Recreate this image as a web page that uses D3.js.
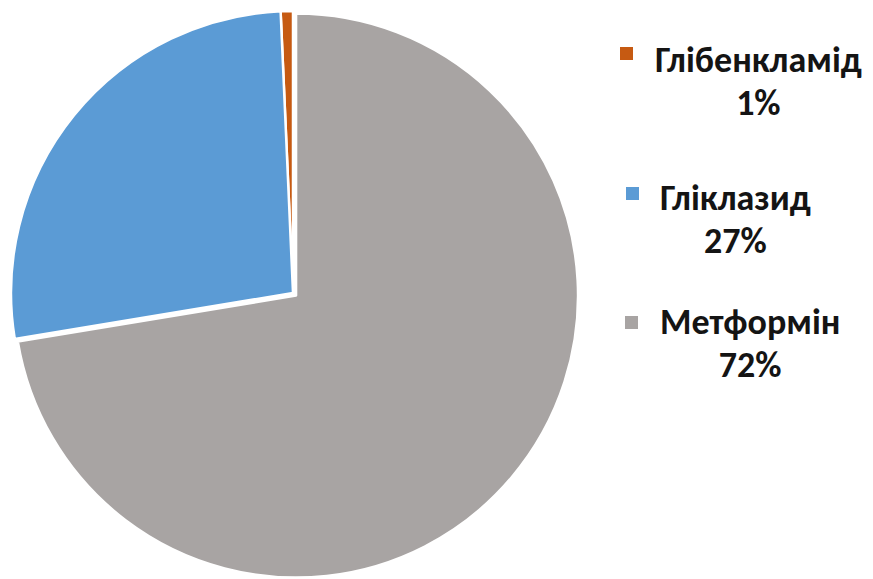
<!DOCTYPE html>
<html>
<head>
<meta charset="utf-8">
<script src="https://cdn.jsdelivr.net/npm/d3@7"></script>
<style>
  html, body { margin: 0; padding: 0; background: #fff; }
  svg { display: block; }
  text { font-family: Carlito, Calibri, "Open Sans", Lato, sans-serif; font-weight: 700; fill: #141414; }
</style>
</head>
<body>
<svg id="chart" width="873" height="579"></svg>
<script>
// Share of prescriptions by drug (percent)
const drugs  = ["Глібенкламід", "Гліклазид", "Метформін"];
const shares = [0.7, 26.9, 72.4];
const colors = ["#C65A12", "#5B9BD5", "#A8A4A3"];

const W = 873, H = 579;
const cx = 293, cy = 293, R = 282;
const explode = 4; // the largest slice is pulled out slightly

const svg = d3.select("#chart");
const total = d3.sum(shares);

// Slices run counter-clockwise from 12 o'clock in data order
const pie = d3.pie().sort(null).value(d => d)
  .startAngle(0).endAngle(-2 * Math.PI);
const arcs = pie(shares);
const arc = d3.arc().innerRadius(0).outerRadius(R);

const g = svg.append("g").attr("transform", `translate(${cx},${cy})`);
g.selectAll("path")
  .data(arcs)
  .join("path")
  .attr("d", arc)
  .attr("fill", (d, i) => colors[i])
  .attr("stroke", "#fff")
  .attr("stroke-width", 2.5)
  .attr("stroke-linejoin", "round")
  .attr("transform", (d, i) => {
    if (i !== 2) return null;
    const mid = (d.startAngle + d.endAngle) / 2;
    return `translate(${explode * Math.sin(mid)},${-explode * Math.cos(mid)})`;
  });

// Legend: marker, name, and rounded percentage below the name
const fmt = d3.format(".0%");
const legendRows = [
  { mx: 620, my: 47, tx: 655, ty: 72 },
  { mx: 626, my: 187, tx: 660, ty: 210 },
  { mx: 625, my: 316, tx: 660, ty: 334 }
];
const fontSize = 36;
const lineGap = 43;

const leg = svg.append("g");
drugs.forEach((name, i) => {
  const r = legendRows[i];
  leg.append("rect")
    .attr("x", r.mx).attr("y", r.my)
    .attr("width", 13).attr("height", 13)
    .attr("fill", colors[i]);
  const t = leg.append("text")
    .attr("x", r.tx).attr("y", r.ty)
    .attr("font-size", fontSize)
    .text(name);
  const w = t.node().getComputedTextLength();
  leg.append("text")
    .attr("x", r.tx + w / 2).attr("y", r.ty + lineGap)
    .attr("text-anchor", "middle")
    .attr("font-size", fontSize)
    .text(fmt(shares[i] / total));
});
</script>
</body>
</html>
